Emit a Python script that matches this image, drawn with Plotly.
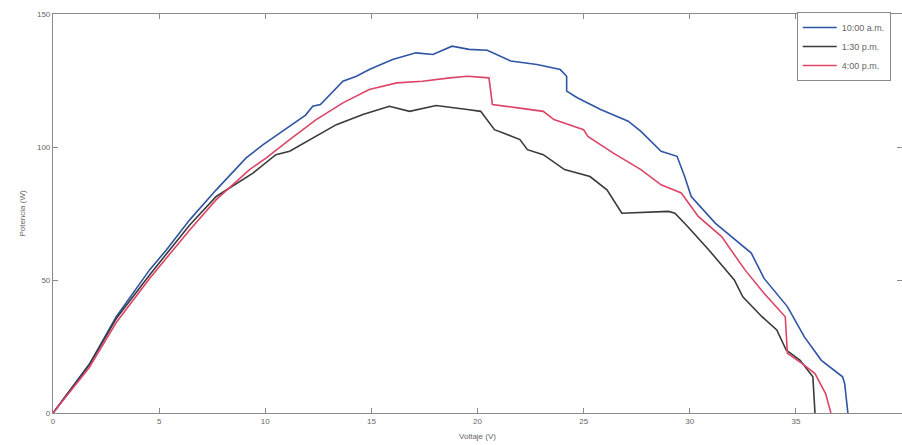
import plotly.graph_objects as go

# Voltage (V) / Power (W) readings per series
v_1000 = [0, 0.9, 1.73, 2.98, 3.8, 4.55, 5.34, 6.44, 7.69, 9.1, 9.9, 11.15, 11.9, 12.24, 12.6, 13.66,
          14.3, 14.9, 16.0, 17.1, 17.9, 18.8, 19.6, 20.46, 21.57, 22.8, 23.9, 24.2, 24.2, 24.7, 25.8,
          27.1, 27.7, 28.65, 29.4, 29.76, 30.07, 31.2, 32.9, 33.5, 34.6, 35.4, 36.2, 37.2, 37.3, 37.45]
p_1000 = [0, 9.5, 18.6, 36.2, 45.5, 53.8, 61.3, 72.6, 83.9, 95.9, 100.9, 107.8, 112.0, 115.3, 116.0, 124.7,
          126.6, 129.1, 132.9, 135.4, 134.8, 137.9, 136.7, 136.4, 132.3, 131.0, 129.1, 126.6, 121.0, 118.5, 114.1,
          109.7, 105.9, 98.4, 96.5, 88.9, 81.4, 71.4, 60.1, 50.6, 40.0, 28.6, 19.8, 13.6, 11.0, 0]

v_130 = [0, 0.9, 1.7, 2.98, 3.8, 4.55, 6.44, 7.69, 9.42, 10.5, 11.15, 12.1, 13.35, 14.6, 15.85, 16.8,
         18.05, 19.52, 20.15, 20.8, 22.0, 22.35, 23.1, 24.1, 25.3, 26.1, 26.4, 26.8, 29.0, 29.3, 29.9,
         30.9, 32.1, 32.5, 33.4, 34.1, 34.55, 35.2, 35.8, 35.9]
p_130 = [0, 9.3, 18.0, 35.5, 44.0, 51.9, 70.7, 81.4, 90.2, 97.1, 98.4, 102.8, 108.4, 112.2, 115.3, 113.4,
         115.6, 114.1, 113.4, 106.5, 102.8, 99.0, 97.1, 91.5, 88.9, 83.9, 80.2, 75.1, 75.8, 75.1, 70.1,
         61.3, 50.0, 43.7, 36.2, 31.2, 23.6, 19.8, 13.6, 0]

v_400 = [0, 0.9, 1.7, 2.98, 3.8, 4.55, 6.44, 7.69, 9.26, 10.05, 11.15, 12.4, 13.66, 14.9, 16.2, 17.4,
         18.7, 19.52, 20.54, 20.7, 21.9, 23.1, 23.6, 25.0, 25.2, 26.4, 27.7, 28.65, 29.6, 30.4, 31.5,
         32.6, 33.5, 34.3, 34.5, 34.6, 35.3, 35.9, 36.4, 36.65]
p_400 = [0, 8.8, 17.0, 34.0, 42.5, 50.6, 68.8, 80.2, 91.5, 95.9, 102.8, 110.3, 116.6, 121.6, 124.1, 124.7,
         126.0, 126.6, 126.0, 116.0, 114.7, 113.4, 110.3, 106.5, 104.0, 97.7, 91.5, 85.8, 82.7, 73.9, 66.3,
         53.8, 45.0, 38.1, 36.2, 22.4, 18.6, 14.8, 7.3, 0]

labels = ["10:00 a.m.", "1:30 p.m.", "4:00 p.m."]
x_ticks = [0, 5, 10, 15, 20, 25, 30, 35, 40]
y_ticks = [0, 50, 100, 150]

colors = ["#2f54a3", "#3a3a3a", "#dd4466"]
FONT = "Liberation Sans, Arial"

fig = go.Figure()
for vx, py, name, c in zip([v_1000, v_130, v_400], [p_1000, p_130, p_400], labels, colors):
    fig.add_trace(go.Scatter(x=vx, y=py, mode="lines", name=name,
                             line=dict(color=c, width=1.6)))

axis_common = dict(showline=True, linecolor="#8a8a8a", linewidth=1.2, mirror="ticks",
                   ticks="inside", ticklen=5, tickcolor="#8a8a8a", showgrid=False, zeroline=False,
                   automargin=False,
                   tickfont=dict(family=FONT, size=8, color="#666"))

fig.update_xaxes(range=[0, 40], tickvals=x_ticks, ticktext=[str(t) for t in x_ticks],
                 title=dict(text="Voltaje (V)", font=dict(family=FONT, size=8, color="#666"),
                            standoff=8),
                 **axis_common)
fig.update_yaxes(range=[0, 150], tickvals=y_ticks, ticktext=[str(t) for t in y_ticks],
                 title=dict(text="Potencia (W)", font=dict(family=FONT, size=8, color="#666"),
                            standoff=10),
                 **axis_common)

fig.update_layout(
    width=902, height=445,
    margin=dict(l=53, r=0, t=14, b=32),
    paper_bgcolor="white", plot_bgcolor="white",
    showlegend=True,
    legend=dict(x=0.876, y=1.005, xanchor="left", yanchor="top",
                bgcolor="white", bordercolor="#8a8a8a", borderwidth=1,
                font=dict(family=FONT, size=9, color="#666"),
                itemwidth=34, tracegroupgap=0, entrywidth=96, entrywidthmode="pixels"),
)

fig.write_html("out.html", config={"displayModeBar": False},
               post_script="document.body.style.margin='0';document.body.style.overflow='hidden';")
